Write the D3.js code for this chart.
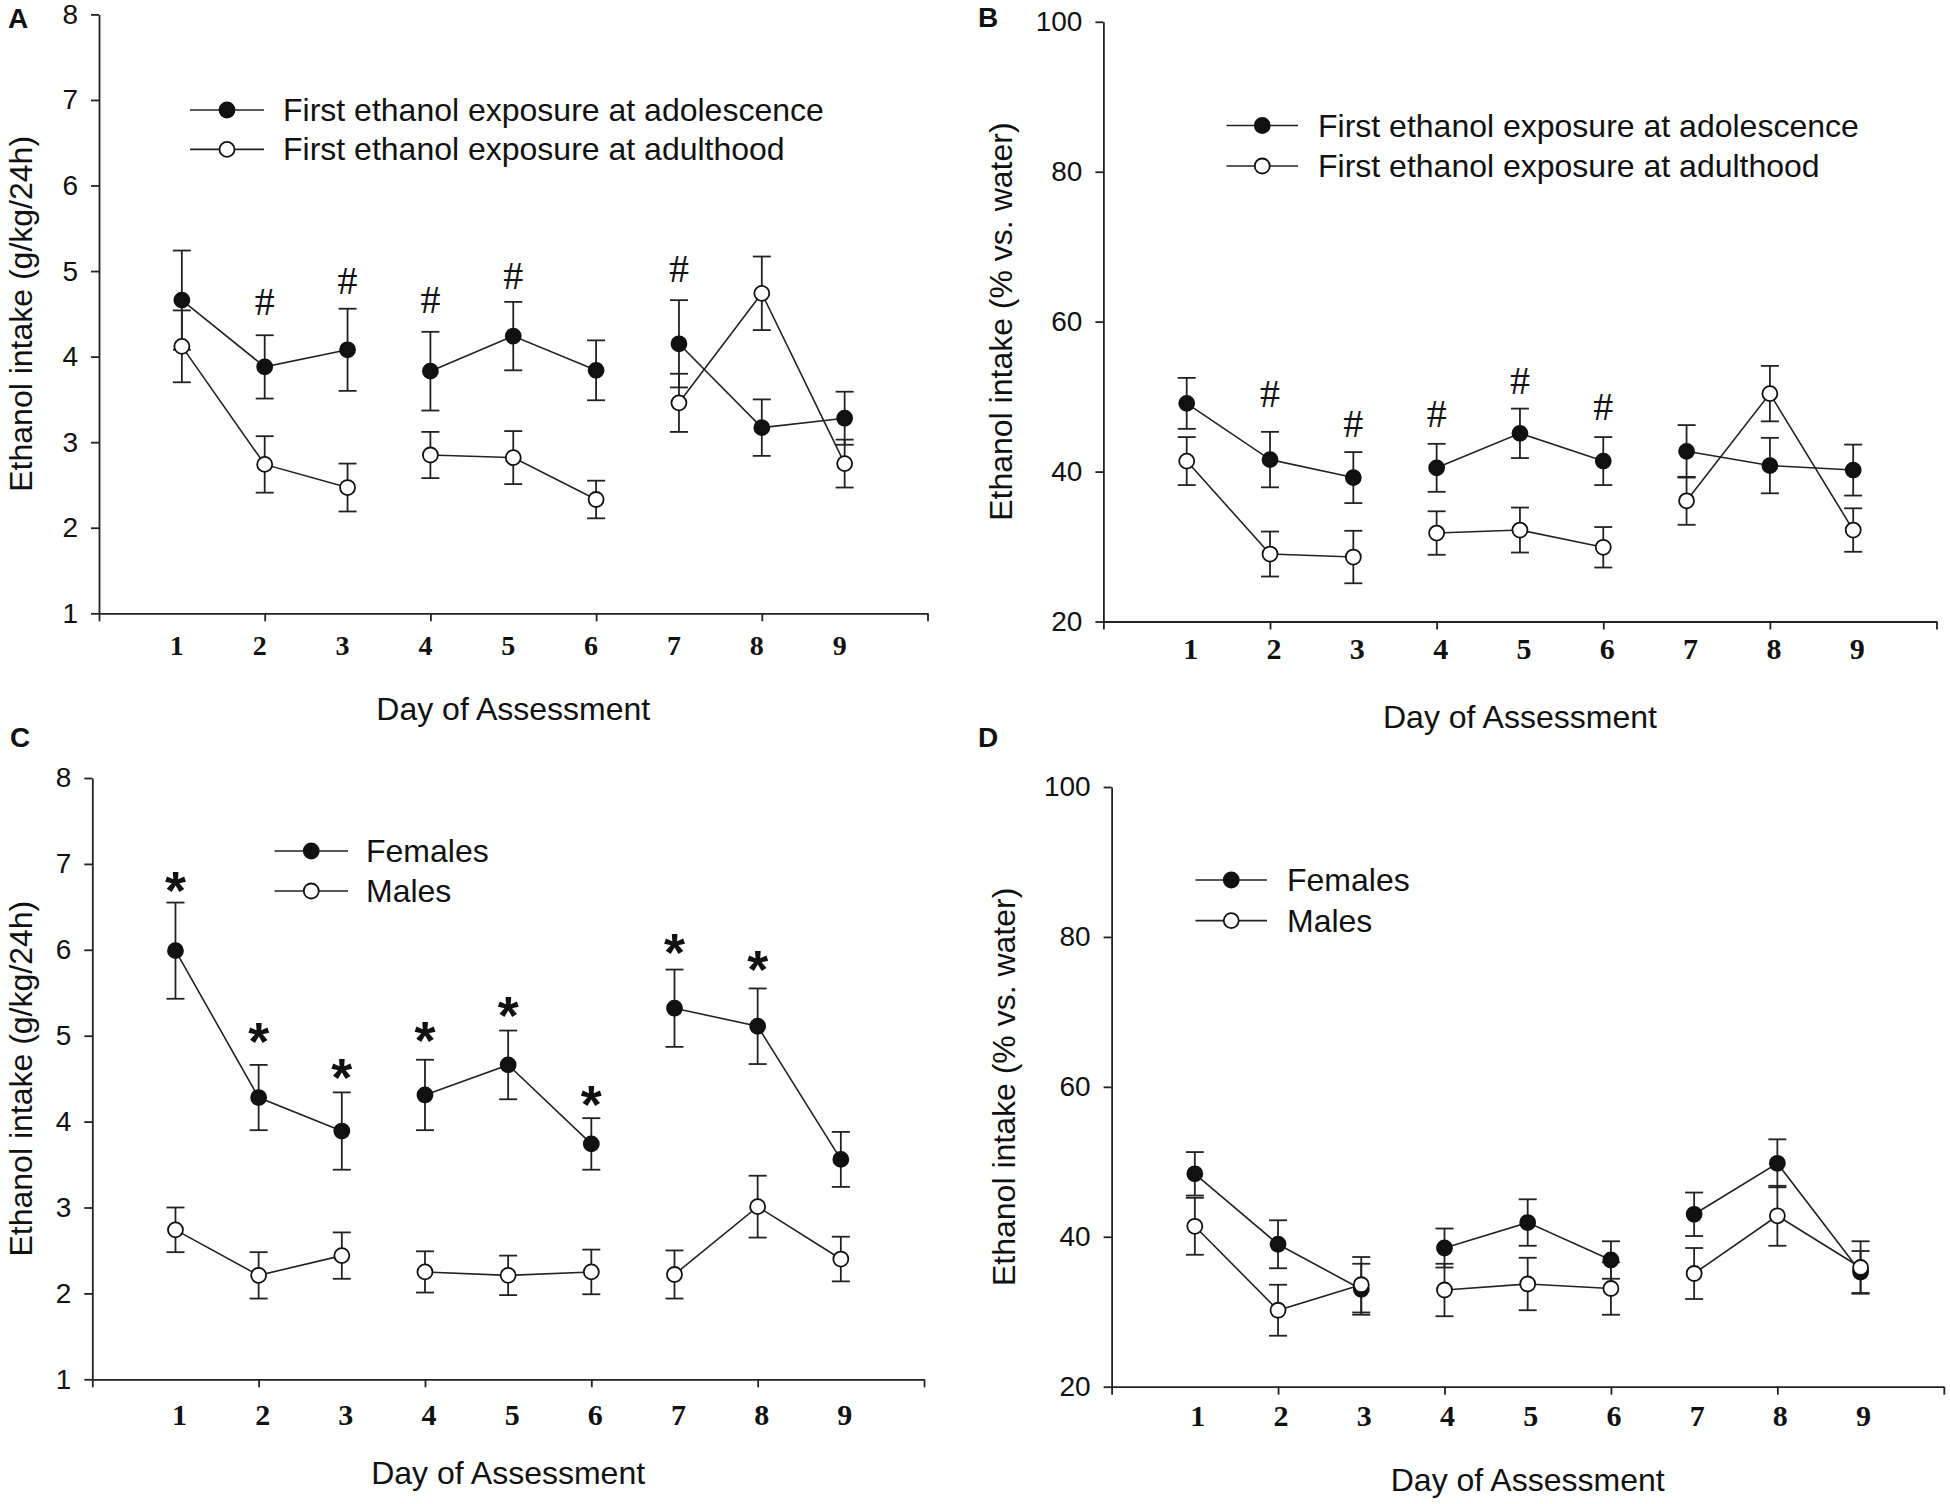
<!DOCTYPE html>
<html>
<head>
<meta charset="utf-8">
<script src="https://cdn.jsdelivr.net/npm/d3@7"></script>
<style>
  body { margin: 0; background: #fff; }
  svg text { fill: #111; }
  .axis path, .axis line { stroke: #222; stroke-width: 1.8; }
</style>
</head>
<body>
<svg id="fig" width="1950" height="1504"></svg>
<script>
// Day of assessment (x)
const days = [1, 2, 3, 4, 5, 6, 7, 8, 9];
const blocks = [[1, 2, 3], [4, 5, 6], [7, 8, 9]];

// Panel A: g/kg/24h by age at first exposure
const aAdolMean  = [4.66, 3.88, 4.08, 3.83, 4.24, 3.84, 4.15, 3.17, 3.28];
const aAdolSem   = [0.58, 0.37, 0.48, 0.46, 0.40, 0.35, 0.51, 0.33, 0.31];
const aAdultMean = [4.12, 2.74, 2.47, 2.85, 2.82, 2.33, 3.46, 4.74, 2.75];
const aAdultSem  = [0.42, 0.33, 0.28, 0.27, 0.31, 0.22, 0.34, 0.43, 0.28];

// Panel B: % vs water by age at first exposure
const bAdolMean  = [49.1, 41.6, 39.2, 40.5, 45.1, 41.4, 42.7, 40.8, 40.2];
const bAdolSem   = [3.4, 3.7, 3.4, 3.2, 3.3, 3.2, 3.5, 3.7, 3.4];
const bAdultMean = [41.4, 29.0, 28.6, 31.8, 32.2, 29.9, 36.1, 50.4, 32.2];
const bAdultSem  = [3.2, 3.0, 3.5, 2.9, 3.0, 2.7, 3.2, 3.7, 2.9];

// Panel C: g/kg/24h by sex
const cFemMean  = [5.99, 4.28, 3.89, 4.31, 4.66, 3.74, 5.32, 5.11, 3.56];
const cFemSem   = [0.56, 0.38, 0.45, 0.41, 0.40, 0.30, 0.45, 0.44, 0.32];
const cMaleMean = [2.74, 2.21, 2.44, 2.25, 2.21, 2.25, 2.22, 3.01, 2.40];
const cMaleSem  = [0.26, 0.27, 0.27, 0.24, 0.23, 0.26, 0.28, 0.36, 0.26];

// Panel D: % vs water by sex
const dFemMean  = [48.4, 39.0, 33.0, 38.5, 41.9, 36.9, 43.0, 49.8, 35.3];
const dFemSem   = [2.9, 3.2, 3.4, 2.6, 3.1, 2.5, 2.9, 3.2, 2.8];
const dMaleMean = [41.4, 30.2, 33.6, 32.9, 33.7, 33.1, 35.1, 42.8, 35.9];
const dMaleSem  = [3.8, 3.4, 3.7, 3.5, 3.5, 3.5, 3.4, 4.0, 3.5];

// Significance marks (day, height in data units)
const aHashDays = [2, 3, 4, 5, 7];
const aHashY    = [4.64, 4.89, 4.67, 4.95, 5.03];
const bHashDays = [2, 3, 4, 5, 6];
const bHashY    = [50.4, 46.4, 47.8, 52.2, 48.7];
const cStarDays = [1, 2, 3, 4, 5, 6, 7, 8];
const cStarY    = [6.83, 5.07, 4.65, 5.08, 5.37, 4.34, 6.10, 5.91];

const ageLabels = ['First ethanol exposure at adolescence', 'First ethanol exposure at adulthood'];
const sexLabels = ['Females', 'Males'];
const gkgTicks = [1, 2, 3, 4, 5, 6, 7, 8];
const pctTicks = [20, 40, 60, 80, 100];

const SANS = 'Liberation Sans, Arial, sans-serif';
const SERIF = 'Liberation Serif, Times New Roman, serif';

const panels = [
  { letter: 'A', lx: 8, ly: 28, x0: 99, x1: 927.5, yTop: 14.4, yBot: 613.3, dom: [1, 8], ticks: gkgTicks,
    ylabel: 'Ethanol intake (g/kg/24h)', ylx: 32, labOff: 42, labFs: 28, labDx: -5, titleY: 720,
    filled: [aAdolMean, aAdolSem], open: [aAdultMean, aAdultSem], names: ageLabels,
    leg: { x1: 190, x2: 264, y: 110, dy: 39.4, tx: 283 },
    marks: { days: aHashDays, ys: aHashY, ch: '#' } },
  { letter: 'B', lx: 978, ly: 27, x0: 1103.4, x1: 1936.5, yTop: 21.8, yBot: 621.5, dom: [20, 100], ticks: pctTicks,
    ylabel: 'Ethanol intake (% vs. water)', ylx: 1012, labOff: 37.5, labFs: 30, labDx: 4, titleY: 728,
    filled: [bAdolMean, bAdolSem], open: [bAdultMean, bAdultSem], names: ageLabels,
    leg: { x1: 1226.5, x2: 1298, y: 125.5, dy: 40.5, tx: 1318 },
    marks: { days: bHashDays, ys: bHashY, ch: '#' } },
  { letter: 'C', lx: 10, ly: 747, x0: 92.3, x1: 924, yTop: 778, yBot: 1379.3, dom: [1, 8], ticks: gkgTicks,
    ylabel: 'Ethanol intake (g/kg/24h)', ylx: 32, labOff: 46, labFs: 30, labDx: 4, titleY: 1484,
    filled: [cFemMean, cFemSem], open: [cMaleMean, cMaleSem], names: sexLabels,
    leg: { x1: 274.5, x2: 348, y: 851, dy: 40, tx: 366 },
    marks: { days: cStarDays, ys: cStarY, ch: '*' } },
  { letter: 'D', lx: 978, ly: 747, x0: 1111.6, x1: 1943.8, yTop: 787, yBot: 1386.7, dom: [20, 100], ticks: pctTicks,
    ylabel: 'Ethanol intake (% vs. water)', ylx: 1015, labOff: 39, labFs: 30, labDx: 3, titleY: 1491,
    filled: [dFemMean, dFemSem], open: [dMaleMean, dMaleSem], names: sexLabels,
    leg: { x1: 1195.5, x2: 1267, y: 880, dy: 40.6, tx: 1287 },
    marks: null }
];

const svg = d3.select('#fig');

panels.forEach(drawPanel);

function drawPanel(p) {
  const x = d3.scaleLinear().domain([0, 10]).range([p.x0, p.x1]);
  const y = d3.scaleLinear().domain(p.dom).range([p.yBot, p.yTop]);
  const g = svg.append('g');

  // panel letter
  g.append('text').attr('x', p.lx).attr('y', p.ly)
    .style('font', `bold 28px ${SANS}`).text(p.letter);

  // axes
  g.append('g').attr('class', 'axis')
    .attr('transform', `translate(${p.x0},0)`)
    .call(d3.axisLeft(y).tickValues(p.ticks).tickFormat(d3.format('d'))
      .tickSize(8).tickSizeOuter(0).tickPadding(13))
    .call(ax => ax.selectAll('text').style('font', `28px ${SANS}`));

  g.append('g').attr('class', 'axis')
    .attr('transform', `translate(0,${p.yBot})`)
    .call(d3.axisBottom(x).tickValues([0, 2, 4, 6, 8, 10]).tickSize(8).tickSizeOuter(0).tickFormat(''));

  g.selectAll('.daylab').data(days).join('text')
    .attr('x', d => x(d) + p.labDx).attr('y', p.yBot + p.labOff)
    .attr('text-anchor', 'middle')
    .style('font', `bold ${p.labFs}px ${SERIF}`)
    .text(d => d);

  // axis titles
  g.append('text')
    .attr('transform', `translate(${p.ylx},${(p.yTop + p.yBot) / 2}) rotate(-90)`)
    .attr('text-anchor', 'middle')
    .style('font', `32px ${SANS}`)
    .text(p.ylabel);

  g.append('text')
    .attr('x', (p.x0 + p.x1) / 2).attr('y', p.titleY)
    .attr('text-anchor', 'middle')
    .style('font', `32px ${SANS}`)
    .text('Day of Assessment');

  const line = d3.line().x(d => x(d.day)).y(d => y(d.mean));
  const series = [p.filled, p.open].map(([mean, sem], i) => ({
    fill: i === 0 ? '#111' : '#fff',
    pts: days.map((d, k) => ({ day: d, mean: mean[k], sem: sem[k] }))
  }));

  // error bars + lines
  series.forEach(s => {
    const eb = g.append('g').attr('stroke', '#222').attr('stroke-width', 1.8);
    s.pts.forEach(d => {
      const cx = x(d.day), hi = y(d.mean + d.sem), lo = y(d.mean - d.sem);
      eb.append('line').attr('x1', cx).attr('x2', cx).attr('y1', hi).attr('y2', lo);
      eb.append('line').attr('x1', cx - 9).attr('x2', cx + 9).attr('y1', hi).attr('y2', hi);
      eb.append('line').attr('x1', cx - 9).attr('x2', cx + 9).attr('y1', lo).attr('y2', lo);
    });
    blocks.forEach(b => {
      g.append('path')
        .datum(s.pts.filter(d => b.includes(d.day)))
        .attr('d', line)
        .attr('fill', 'none').attr('stroke', '#222').attr('stroke-width', 1.6);
    });
  });

  // markers: filled first, open on top
  series.forEach(s => {
    g.append('g').selectAll('circle').data(s.pts).join('circle')
      .attr('cx', d => x(d.day)).attr('cy', d => y(d.mean)).attr('r', 7.5)
      .attr('fill', s.fill).attr('stroke', '#111').attr('stroke-width', 1.8);
  });

  // significance marks
  if (p.marks) {
    const star = p.marks.ch === '*';
    const fs = star ? 54 : 40;
    const shift = star ? 0.56 * fs : 0.34 * fs;
    g.selectAll('.mark').data(p.marks.days).join('text')
      .attr('x', d => x(d)).attr('y', (d, i) => y(p.marks.ys[i]) + shift)
      .attr('text-anchor', 'middle')
      .style('font', star ? `bold ${fs}px ${SANS}` : `${fs}px ${SERIF}`)
      .text(p.marks.ch);
  }

  // legend
  const L = p.leg;
  series.forEach((s, i) => {
    const ly = L.y + i * L.dy;
    g.append('line').attr('x1', L.x1).attr('x2', L.x2).attr('y1', ly).attr('y2', ly)
      .attr('stroke', '#222').attr('stroke-width', 1.6);
    g.append('circle').attr('cx', (L.x1 + L.x2) / 2).attr('cy', ly).attr('r', 7.5)
      .attr('fill', s.fill).attr('stroke', '#111').attr('stroke-width', 1.8);
    g.append('text').attr('x', L.tx).attr('y', ly + 11)
      .style('font', `32px ${SANS}`).text(p.names[i]);
  });
}
</script>
</body>
</html>
